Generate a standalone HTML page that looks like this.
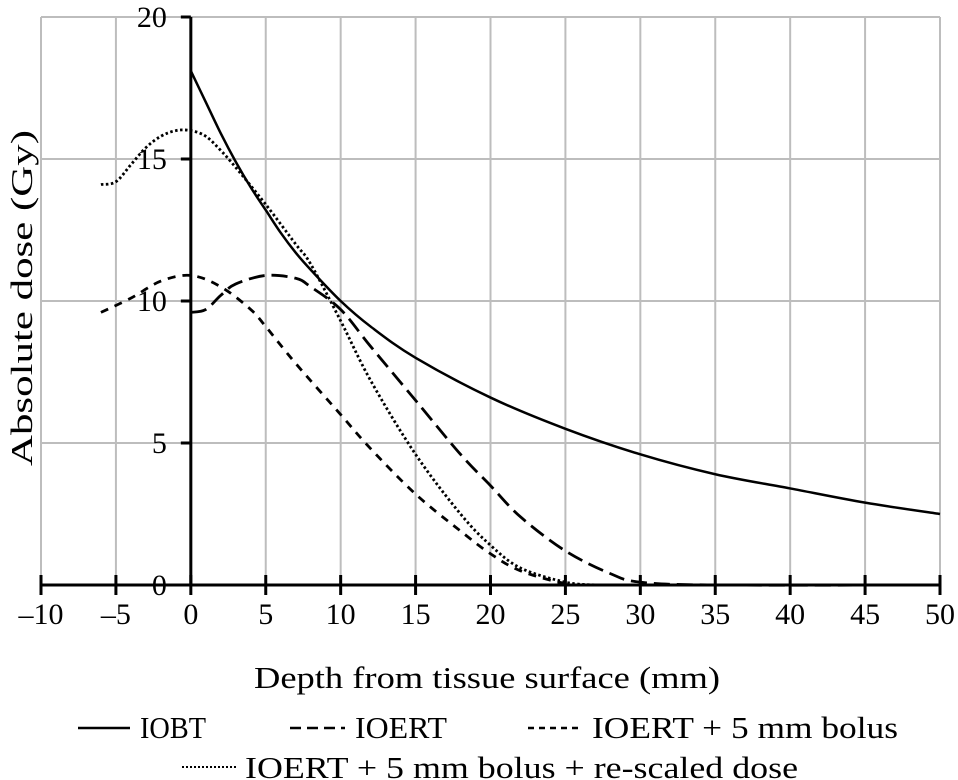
<!DOCTYPE html>
<html><head><meta charset="utf-8"><style>
html,body{margin:0;padding:0;background:#fff;}
svg{display:block;font-family:"Liberation Serif",serif;}
</style></head><body>
<svg id="chart" width="958" height="780" viewBox="0 0 958 780">
<g id="grid"></g>
<g id="series"></g>
<g id="axes"></g>
<text x="32" y="298" font-size="31" text-anchor="middle" textLength="336" lengthAdjust="spacingAndGlyphs" transform="rotate(-90 32 298)">Absolute dose (Gy)</text>
<text x="487" y="688" font-size="31" text-anchor="middle" textLength="466" lengthAdjust="spacingAndGlyphs">Depth from tissue surface (mm)</text>
<g font-size="31">
 <g><line x1="78" y1="728" x2="130" y2="728" stroke="#000" stroke-width="2.5"/><text x="140" y="738" textLength="66" lengthAdjust="spacingAndGlyphs">IOBT</text></g>
 <g><line x1="290" y1="728" x2="345" y2="728" stroke="#000" stroke-width="2.5" stroke-dasharray="11 6"/><text x="355" y="738" textLength="92" lengthAdjust="spacingAndGlyphs">IOERT</text></g>
 <g><line x1="528" y1="728" x2="583" y2="728" stroke="#000" stroke-width="2.5" stroke-dasharray="6 5"/><text x="592" y="738" textLength="306" lengthAdjust="spacingAndGlyphs">IOERT + 5 mm bolus</text></g>
 <g><line x1="182" y1="767" x2="236" y2="767" stroke="#000" stroke-width="2" stroke-dasharray="2 2"/><text x="245" y="778" textLength="553" lengthAdjust="spacingAndGlyphs">IOERT + 5 mm bolus + re-scaled dose</text></g>
</g>
</svg>
<script>
const xTicks=[-10,-5,0,5,10,15,20,25,30,35,40,45,50];
const yTicks=[0,5,10,15,20];
const iobtX=[0,1,2,3,4,5,6,7,8,10,12,15,20,25,30,35,40,45,50];
const iobtY=[18.1,17.0,15.9,14.9,14.0,13.2,12.4,11.7,11.1,10.0,9.1,8.0,6.6,5.5,4.6,3.9,3.4,2.9,2.5];
const ioertX=[0,1,2,3,5,7,8,10,12,15,18,20,22,25,28,30,35,50];
const ioertY=[9.6,9.7,10.2,10.6,10.9,10.8,10.5,9.7,8.4,6.5,4.6,3.5,2.4,1.2,0.4,0.1,0,0];
const bolusX=[-6,-4,-2,0,2,4,5,7,10,12,15,18,20,22,25,27,30,50];
const bolusY=[9.6,10.1,10.7,10.9,10.5,9.7,9.1,7.8,6.0,4.8,3.2,1.9,1.1,0.5,0.05,0,0,0];
const rescX=[-6,-5,-4,-3,-2,-1,0,1,2,3,5,7,8,10,12,15,18,20,22,25,27];
const rescY=[14.1,14.2,14.8,15.4,15.8,16.0,16.0,15.8,15.3,14.7,13.4,12.0,11.3,9.3,7.2,4.6,2.5,1.4,0.6,0.1,0];
const NS="http://www.w3.org/2000/svg";
const sx=v=>41+(v+10)*(899/60);
const sy=v=>585-v*(568/20);
function mk(t,a,p){const e=document.createElementNS(NS,t);for(const k in a)e.setAttribute(k,a[k]);p.appendChild(e);return e;}
const grid=document.getElementById('grid'),axes=document.getElementById('axes'),ser=document.getElementById('series');
xTicks.forEach(t=>{
 const g=mk('line',{x1:sx(t),x2:sx(t),y1:sy(20),y2:sy(0),stroke:'#bdbdbd','stroke-width':2},grid);
 
 
 const tk=mk('line',{x1:sx(t),x2:sx(t),y1:sy(0)-10,y2:sy(0)+10,stroke:'#000','stroke-width':3},axes);
 
 
 const lb=mk('text',{x:sx(t),y:624,'font-size':30,'text-anchor':'middle'},axes);
 lb.textContent=t<0?'\u2013'+(-t):String(t);
 
 
});
yTicks.forEach(t=>{
 const g=mk('line',{x1:sx(-10),x2:sx(50),y1:sy(t),y2:sy(t),stroke:'#bdbdbd','stroke-width':2},grid);
 
 
 const tk=mk('line',{x1:sx(0)-10,x2:sx(0),y1:sy(t),y2:sy(t),stroke:'#000','stroke-width':3},axes);
 
 
 const lb=mk('text',{x:sx(0)-24,y:sy(t)+10,'font-size':30,'text-anchor':'end'},axes);
 lb.textContent=String(t);
 
 
});
const xa=mk('line',{x1:sx(-10),x2:sx(50),y1:sy(0),y2:sy(0),stroke:'#000','stroke-width':3},axes);


const ya=mk('line',{x1:sx(0),x2:sx(0),y1:sy(20),y2:sy(0),stroke:'#000','stroke-width':3},axes);


function path(xs,ys){
 const p=xs.map((x,i)=>[sx(x),sy(ys[i])]);
 let d='M'+p[0][0]+','+p[0][1];
 for(let i=0;i<p.length-1;i++){
  const p0=p[i-1]||p[i],p1=p[i],p2=p[i+1],p3=p[i+2]||p2;
  const c1=[p1[0]+(p2[0]-p0[0])/6,p1[1]+(p2[1]-p0[1])/6];
  const c2=[p2[0]-(p3[0]-p1[0])/6,p2[1]-(p3[1]-p1[1])/6];
  d+=' C'+c1+' '+c2+' '+p2;
 }
 return d;
}
function add(xs,ys,dash,w,name){
 const e=mk('path',{d:path(xs,ys),fill:'none',stroke:'#000','stroke-width':w,'stroke-dasharray':dash},ser);
 
 
}
add(ioertX,ioertY,'16 7',2.8,'line-ioert');
add(bolusX,bolusY,'8 7',2.8,'line-ioert-bolus');
add(rescX,rescY,'2.5 2.5',2.8,'line-ioert-bolus-rescaled');
add(iobtX,iobtY,'none',2.5,'line-iobt');
</script>
</body></html>
